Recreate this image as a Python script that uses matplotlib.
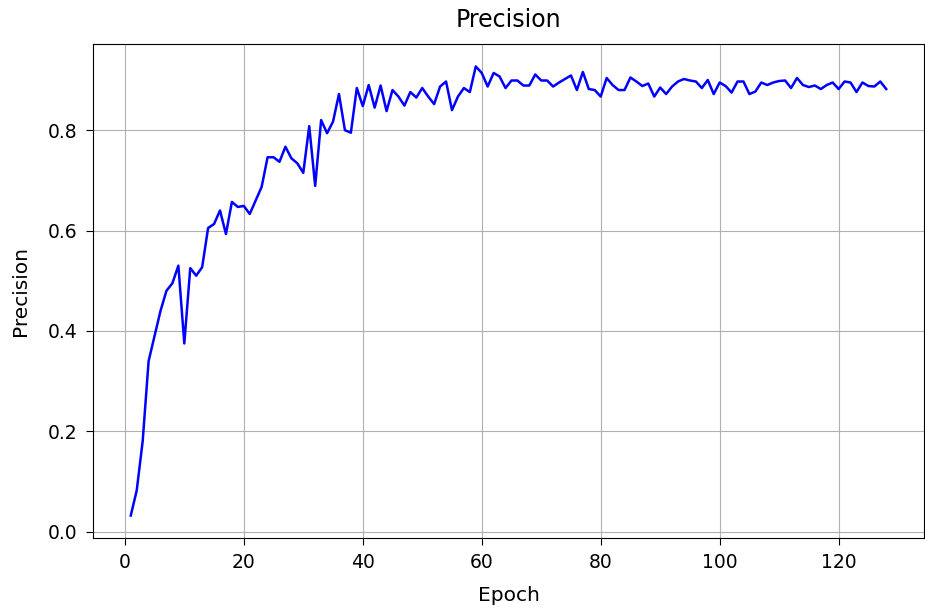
import matplotlib
matplotlib.use("Agg")
import matplotlib.pyplot as plt

# precision per epoch (epochs 1..128)
epochs = list(range(1, 129))
precision = [
    0.032, 0.082, 0.180, 0.340, 0.390, 0.440, 0.480, 0.495, 0.530, 0.375,
    0.525, 0.510, 0.527, 0.605, 0.613, 0.640, 0.593, 0.657, 0.647, 0.649,
    0.633, 0.660, 0.687, 0.746, 0.746, 0.737, 0.767, 0.744, 0.734, 0.715,
    0.808, 0.689, 0.820, 0.794, 0.817, 0.872, 0.800, 0.795, 0.884, 0.848,
    0.890, 0.845, 0.889, 0.838, 0.880, 0.867, 0.849, 0.876, 0.865, 0.884,
    0.867, 0.852, 0.887, 0.897, 0.840, 0.867, 0.884, 0.876, 0.927, 0.914,
    0.887, 0.914, 0.907, 0.884, 0.899, 0.899, 0.889, 0.889, 0.911, 0.899,
    0.899, 0.887, 0.895, 0.902, 0.909, 0.880, 0.916, 0.882, 0.880, 0.867,
    0.904, 0.890, 0.880, 0.880, 0.905, 0.897, 0.888, 0.893, 0.867, 0.885,
    0.872, 0.887, 0.897, 0.902, 0.899, 0.897, 0.884, 0.900, 0.872, 0.895,
    0.888, 0.875, 0.897, 0.897, 0.872, 0.877, 0.895, 0.890, 0.895, 0.898,
    0.899, 0.884, 0.904, 0.890, 0.886, 0.889, 0.882, 0.890, 0.895, 0.882,
    0.897, 0.895, 0.876, 0.895, 0.888, 0.887, 0.897, 0.882,
]

fig = plt.figure(figsize=(9.25, 6.1), dpi=100)
ax = fig.add_axes([93 / 925, 72 / 610, 831 / 925, 494 / 610])

ax.plot(epochs, precision, color="blue", linewidth=1.8)
ax.set_title("Precision", fontsize=17, pad=12)
ax.set_xlabel("Epoch", fontsize=14.5, labelpad=10)
ax.set_ylabel("Precision", fontsize=14.5, labelpad=13)
ax.tick_params(labelsize=13.5, pad=6, length=5)
ax.grid(True)

fig.savefig("out.png", dpi=100)
